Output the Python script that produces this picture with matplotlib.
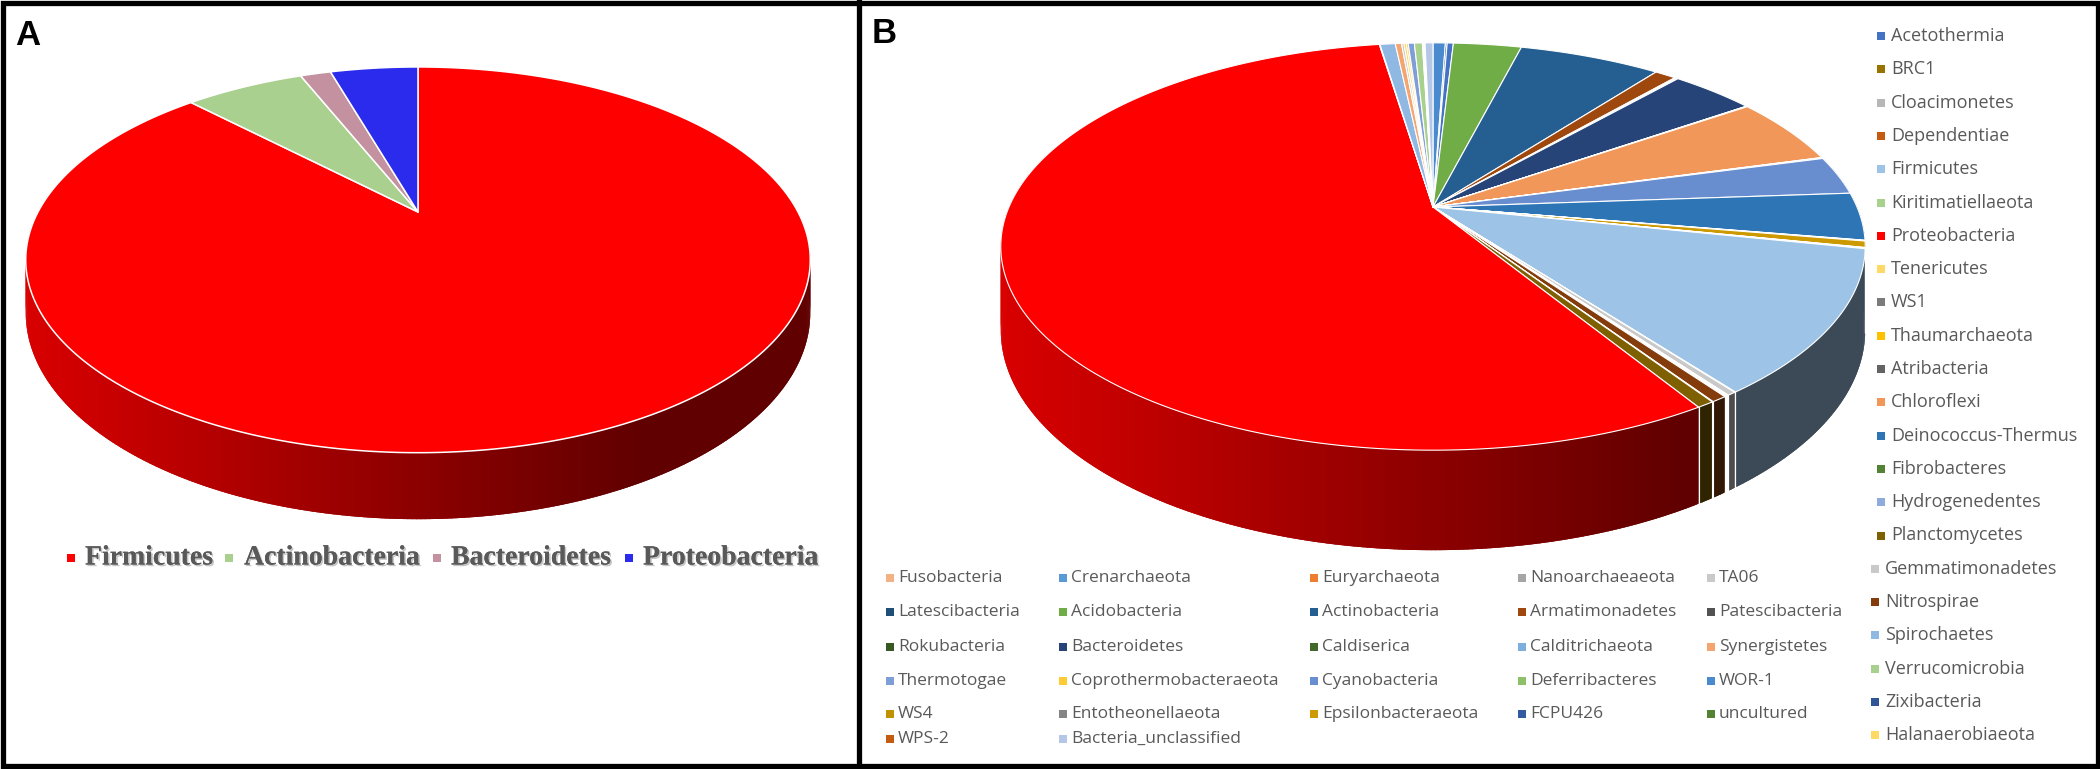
import numpy as np
import matplotlib
matplotlib.use('Agg')
import matplotlib.pyplot as plt
from matplotlib.patches import Polygon, Rectangle
from matplotlib.colors import to_rgb
import matplotlib.patheffects as pe

# ---------------- data ----------------
# Panel A (clockwise from 12 o'clock)
cats_A = ['Firmicutes', 'Actinobacteria', 'Bacteroidetes', 'Proteobacteria']
vals_A = [87.6, 6.2, 1.6, 4.6]
cols_A = ['#FF0000', '#A9D08E', '#C3919F', '#2B2BEE']

# Panel B (slice order, clockwise from 12 o'clock), values in %
cats_B = ['WOR-1', 'Zixibacteria', 'Acetothermia', 'Acidobacteria', 'Actinobacteria',
          'Armatimonadetes', 'Atribacteria', 'BRC1', 'Bacteroidetes', 'Caldiserica',
          'Calditrichaeota', 'Chloroflexi', 'Cloacimonetes', 'Coprothermobacteraeota',
          'Crenarchaeota', 'Cyanobacteria', 'Deinococcus-Thermus', 'Dependentiae',
          'Entotheonellaeota', 'Epsilonbacteraeota', 'Euryarchaeota', 'FCPU426',
          'Fibrobacteres', 'Firmicutes', 'Fusobacteria', 'Gemmatimonadetes',
          'Halanaerobiaeota', 'Hydrogenedentes', 'Kiritimatiellaeota', 'Latescibacteria',
          'Nanoarchaeaeota', 'Nitrospirae', 'Patescibacteria', 'Planctomycetes',
          'Proteobacteria', 'Rokubacteria', 'Spirochaetes', 'Synergistetes', 'TA06',
          'Tenericutes', 'Thaumarchaeota', 'Thermotogae', 'Verrucomicrobia', 'WPS-2',
          'WS1', 'WS4', 'uncultured', 'Bacteria_unclassified']
vals_B = [0.56, 0.08, 0.28, 3.08, 6.42,
          0.97, 0.08, 0.08, 3.83, 0.03,
          0.03, 5.36, 0.03, 0.03,
          0.03, 3.06, 3.78, 0.03,
          0.03, 0.50, 0.03, 0.03,
          0.03, 11.47, 0.03, 0.28,
          0.03, 0.03, 0.03, 0.03,
          0.03, 0.50, 0.03, 0.56,
          56.55, 0.03, 0.69, 0.28, 0.11,
          0.11, 0.08, 0.28, 0.36, 0.03,
          0.03, 0.03, 0.03, 0.36]
color_B = {
    'Acetothermia': '#4472C4', 'Acidobacteria': '#70AD47', 'Actinobacteria': '#255E91',
    'Armatimonadetes': '#9E480E', 'Atribacteria': '#636363', 'BRC1': '#997300',
    'Bacteroidetes': '#264478', 'Caldiserica': '#43682B', 'Calditrichaeota': '#7CAFDD',
    'Chloroflexi': '#F1975A', 'Cloacimonetes': '#B7B7B7', 'Coprothermobacteraeota': '#FFCD33',
    'Crenarchaeota': '#5B9BD5', 'Cyanobacteria': '#698ED0', 'Deinococcus-Thermus': '#2E75B6',
    'Dependentiae': '#C55A11', 'Entotheonellaeota': '#848484', 'Epsilonbacteraeota': '#CC9A00',
    'Euryarchaeota': '#ED7D31', 'FCPU426': '#335AA1', 'Fibrobacteres': '#548235',
    'Firmicutes': '#9DC3E6', 'Fusobacteria': '#F4B183', 'Gemmatimonadetes': '#C9C9C9',
    'Halanaerobiaeota': '#FFD966', 'Hydrogenedentes': '#8FAADC', 'Kiritimatiellaeota': '#A9D18E',
    'Latescibacteria': '#1F4E79', 'Nanoarchaeaeota': '#A5A5A5', 'Nitrospirae': '#843C0C',
    'Patescibacteria': '#525252', 'Planctomycetes': '#7F6000', 'Proteobacteria': '#FF0000',
    'Rokubacteria': '#385723', 'Spirochaetes': '#8FB8E3', 'Synergistetes': '#F4A46E',
    'TA06': '#C9C9C9', 'Tenericutes': '#FFD966', 'Thaumarchaeota': '#FFC000',
    'Thermotogae': '#7F9ED8', 'Verrucomicrobia': '#A9D18E', 'WOR-1': '#4A8BD0',
    'WPS-2': '#C55A11', 'WS1': '#7B7B7B', 'WS4': '#BF9000', 'Zixibacteria': '#2F5597',
    'uncultured': '#548235', 'Bacteria_unclassified': '#B4C7E7',
    'Deferribacteres': '#8CC168'}

legend_right_B = ['Acetothermia', 'BRC1', 'Cloacimonetes', 'Dependentiae', 'Firmicutes',
                  'Kiritimatiellaeota', 'Proteobacteria', 'Tenericutes', 'WS1', 'Thaumarchaeota',
                  'Atribacteria', 'Chloroflexi', 'Deinococcus-Thermus', 'Fibrobacteres',
                  'Hydrogenedentes', 'Planctomycetes', 'Gemmatimonadetes', 'Nitrospirae',
                  'Spirochaetes', 'Verrucomicrobia', 'Zixibacteria', 'Halanaerobiaeota']
legend_bottom_B = [
    ['Fusobacteria', 'Crenarchaeota', 'Euryarchaeota', 'Nanoarchaeaeota', 'TA06'],
    ['Latescibacteria', 'Acidobacteria', 'Actinobacteria', 'Armatimonadetes', 'Patescibacteria'],
    ['Rokubacteria', 'Bacteroidetes', 'Caldiserica', 'Calditrichaeota', 'Synergistetes'],
    ['Thermotogae', 'Coprothermobacteraeota', 'Cyanobacteria', 'Deferribacteres', 'WOR-1'],
    ['WS4', 'Entotheonellaeota', 'Epsilonbacteraeota', 'FCPU426', 'uncultured'],
    ['WPS-2', 'Bacteria_unclassified'],
]

# ---------------- figure ----------------
W, H = 2100, 769
fig = plt.figure(figsize=(21, 7.69), dpi=100)
ax = fig.add_axes([0, 0, 1, 1])
ax.set_xlim(0, W)
ax.set_ylim(H, 0)
ax.axis('off')


def draw_pie3d(values, colors, cx, cy, sx, sy, k, depth, rim_lw=0.8):
    vals = np.asarray(values, float)
    ang = np.concatenate([[0.0], np.cumsum(vals) / vals.sum() * 360.0])
    xmax = 1.0 / np.sqrt(1 - k * k)

    def P(t, z):
        r = np.radians(t)
        x, y = np.sin(r), np.cos(r)
        w = 1 + k * y
        return (cx + sx * x / w, cy - sy * y / w + z * depth / w)

    step = 0.5
    quads = []
    for i, (a, b) in enumerate(zip(ang[:-1], ang[1:])):
        n = max(2, int(np.ceil((b - a) / step)) + 1)
        ts = np.linspace(a, b, n)
        base = np.array(to_rgb(colors[i]))
        for t0, t1 in zip(ts[:-1], ts[1:]):
            tm = np.radians((t0 + t1) / 2)
            if np.cos(tm) > 0.3:
                continue
            xn = np.sin(tm) / (1 + k * np.cos(tm)) / xmax
            s = max(0.38, 0.55 - 0.3 * xn)
            c = tuple(base * s)
            e0, e1 = max(a, t0 - 0.3), min(b, t1 + 0.3)
            pts = [P(t, 0) for t in np.linspace(e0, e1, 3)] + \
                  [P(t, 1) for t in np.linspace(e1, e0, 3)]
            quads.append((np.cos(tm), pts, c))
    quads.sort(key=lambda q: -q[0])
    for _, pts, c in quads:
        ax.add_patch(Polygon(pts, closed=True, facecolor=c, edgecolor='none', lw=0))
    for t in ang[:-1]:
        if np.cos(np.radians(t)) < -k:
            (x0, y0), (x1, y1) = P(t, 0), P(t, 1)
            ax.plot([x0, x1], [y0, y1], color='white', lw=0.8)
    for i, (a, b) in enumerate(zip(ang[:-1], ang[1:])):
        n = max(2, int(np.ceil((b - a) / step)) + 1)
        ts = np.linspace(a, b, n)
        pts = [(cx, cy)] + [P(t, 0) for t in ts]
        ax.add_patch(Polygon(pts, closed=True, facecolor=colors[i], edgecolor='white',
                             lw=rim_lw, joinstyle='round'))


# Panel A pie
draw_pie3d(vals_A, cols_A, cx=418, cy=212, sx=380, sy=181, k=0.248, depth=50, rim_lw=1.1)

# Panel B pie
draw_pie3d(vals_B, [color_B[c] for c in cats_B], cx=1433, cy=207, sx=424, sy=196,
           k=0.194, depth=80.6, rim_lw=0.8)

# Panel A legend
leg_marker_x = [67, 225, 433, 625]
leg_text_x = [85, 244, 451, 643]
shadow = [pe.withSimplePatchShadow(offset=(1.2, -1.2), shadow_rgbFace='#a0a0a0', alpha=0.6),
          pe.Normal()]
for name, col, mx, tx in zip(cats_A, cols_A, leg_marker_x, leg_text_x):
    ax.add_patch(Rectangle((mx, 554), 8, 8, facecolor=col, edgecolor='none'))
    ax.text(tx, 558, name, ha='left', va='center', fontsize=20, fontweight='bold',
            family=['Liberation Serif', 'DejaVu Serif'], color='#595959', path_effects=shadow)

# Panel B legends
lfont = ['Open Sans', 'DejaVu Sans']
for i, name in enumerate(legend_right_B):
    y = 36 + i * 33.3
    mx = 1877 if i < 16 else 1871
    ax.add_patch(Rectangle((mx, y - 4), 8, 8, facecolor=color_B[name], edgecolor='none'))
    ax.text(mx + 14, y, name, ha='left', va='center', fontsize=13, family=lfont, color='#595959')

col_x = [886, 1059, 1310, 1518, 1707]
row_y = [578, 612, 647, 681, 714, 739]
for r, row in enumerate(legend_bottom_B):
    for c, name in enumerate(row):
        mx, y = col_x[c], row_y[r]
        ax.add_patch(Rectangle((mx, y - 4), 8, 8, facecolor=color_B[name], edgecolor='none'))
        ax.text(mx + 12, y, name, ha='left', va='center', fontsize=12.5, family=lfont,
                color='#595959')

# Panel labels
ax.text(15, 45, 'A', fontsize=25, fontweight='bold', family=['Liberation Sans', 'DejaVu Sans'],
        ha='left', va='baseline', color='black')
ax.text(872, 43, 'B', fontsize=25, fontweight='bold', family=['Liberation Sans', 'DejaVu Sans'],
        ha='left', va='baseline', color='black')

# Frames
ax.add_patch(Rectangle((2.5, 2.5), W - 5, H - 6, fill=False, edgecolor='black', lw=3.8))
ax.plot([859, 859], [0, H], color='black', lw=3.8)

fig.savefig('out.png', dpi=100)
